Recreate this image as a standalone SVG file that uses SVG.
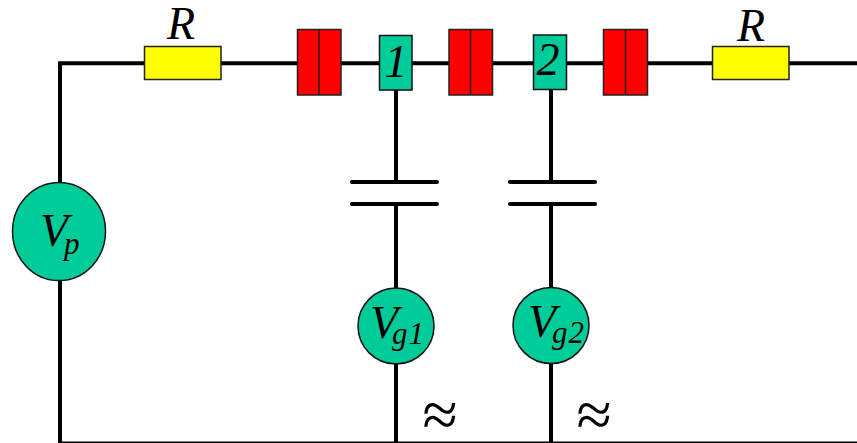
<svg xmlns="http://www.w3.org/2000/svg" width="857" height="443" viewBox="0 0 857 443">
<style>
.w{fill:none;stroke:#000;stroke-width:4;stroke-linecap:round}
.r{fill:#ffff00;stroke:#222;stroke-width:1.5}
.j{fill:#ff0000;stroke:#222;stroke-width:1.5}
.g{fill:#00cc99;stroke:#111;stroke-width:1.5}
text{font-family:"Liberation Serif","Times New Roman",serif;font-style:italic;fill:#000}
.a{font-style:normal}
.s{font-size:31px;letter-spacing:1px}
</style>
<rect width="857" height="443" fill="#fff"/>
<g id="connectors">
<path class="w" d="M60 182V63.300H857"/>
<path class="w" style="stroke-linecap:butt" d="M60 280V443M396 90V182M396 204V443M551 90V182M551 204V443"/>
<path class="w" d="M60 442.500H857" style="stroke-width:2"/>
<path class="w" d="M352 182H437M352 204H437M510 182H595M510 204H595"/>
</g>
<g id="r1"><rect class="r" x="144.500" y="46.500" width="76.500" height="33"/><text x="181" y="39" font-size="46" text-anchor="middle">R</text></g>
<g id="j1"><rect class="j" x="297.500" y="29.500" width="43.500" height="65.500"/><path class="j" d="M319 29.500V95"/></g>
<g id="d1"><rect class="g" x="379.500" y="35.500" width="32.500" height="54.500"/><text x="396" y="77" font-size="46" text-anchor="middle">1</text></g>
<g id="j2"><rect class="j" x="449" y="29.500" width="43.500" height="65.500"/><path class="j" d="M470.500 29.500V95"/></g>
<g id="d2"><rect class="g" x="533.500" y="35" width="33" height="54.500"/><text x="548" y="75" font-size="46" text-anchor="middle">2</text></g>
<g id="j3"><rect class="j" x="603.500" y="29.500" width="44" height="65.500"/><path class="j" d="M625.500 29.500V95"/></g>
<g id="r2"><rect class="r" x="712.500" y="46.500" width="76.500" height="33"/><text x="751" y="41" font-size="46" text-anchor="middle">R</text></g>
<g id="vp"><ellipse class="g" cx="59" cy="231.500" rx="46.500" ry="49"/><text x="40" y="246" font-size="46">V<tspan class="s" dx="-4" dy="8">p</tspan></text></g>
<g id="vg1"><circle class="g" cx="396" cy="326" r="38"/><text x="370" y="338" font-size="46">V<tspan class="s" dx="-6" dy="6">g1</tspan></text></g>
<g id="vg2"><circle class="g" cx="551" cy="325.500" r="38"/><text x="528" y="337" font-size="46">V<tspan class="s" dx="-4" dy="6">g2</tspan></text></g>
<text class="a" x="440" y="436" font-size="64" text-anchor="middle">≈</text>
<text class="a" x="594" y="436" font-size="64" text-anchor="middle">≈</text>
</svg>
